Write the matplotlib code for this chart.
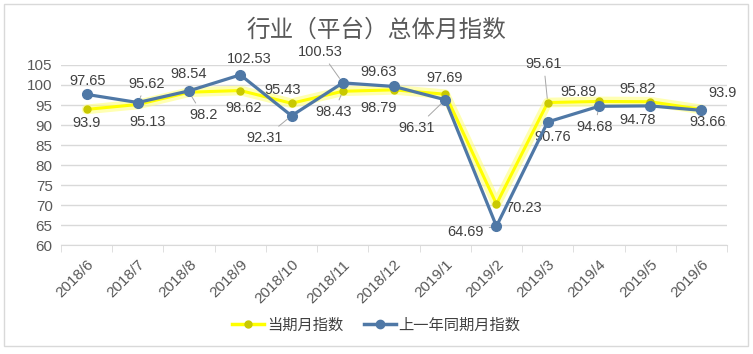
import numpy as np
import matplotlib
matplotlib.use('Agg')
import matplotlib.pyplot as plt
from matplotlib.lines import Line2D
from matplotlib.patches import Rectangle

plt.rcParams['font.family'] = ['Liberation Sans', 'Noto Sans CJK SC', 'DejaVu Sans']

# data
months = ['2018/6', '2018/7', '2018/8', '2018/9', '2018/10', '2018/11', '2018/12',
          '2019/1', '2019/2', '2019/3', '2019/4', '2019/5', '2019/6']
current = [93.9, 95.13, 98.2, 98.62, 95.43, 98.43, 98.79, 97.69, 70.23, 95.61, 95.89, 95.82, 93.9]
last_year = [97.65, 95.62, 98.54, 102.53, 92.31, 100.53, 99.63, 96.31, 64.69, 90.76, 94.68, 94.78, 93.66]

# label offsets in pixels (dx, dy), dy positive = up
cur_off = [(0, -14), (10, -18), (14, -23), (3, -17), (-9, 13), (-9, -21), (-15, -18),
           (-1, 16), (27, -4), (-4, 39), (-20, 9), (-13, 13), (21, 16)]
last_off = [(1, 13), (9, 19), (0, 17), (9, 16), (-27, -22), (-22, 31), (-15, 14),
            (-29, -28), (-31, -6), (5, -15), (-4, -21), (-13, -14), (6, -12)]
cur_lead = [2, 5, 9]
last_lead = [1, 4, 5, 7, 8, 10]

yellow = '#FFFF00'
blue = '#4F78A6'
txt = '#404040'

fig = plt.figure(figsize=(7.53, 3.54), dpi=100)
ax = fig.add_axes([61 / 753, 1 - 245 / 354, 666 / 753, 180 / 354])
x = np.arange(len(months))

ax.plot(x, current, color='#FFFF80', lw=7, alpha=0.6, solid_capstyle='round', zorder=2)
ax.plot(x, current, color=yellow, lw=2.2, marker='o', ms=5, mfc='#C9C900', mec='#C9C900', zorder=3)
ax.plot(x, last_year, color=blue, lw=2.3, marker='o', ms=7, zorder=4)

for i in range(len(x)):
    dx, dy = cur_off[i]
    ap = dict(arrowstyle='-', color='#A6A6A6', lw=0.7, shrinkA=2, shrinkB=3) if i in cur_lead else None
    ax.annotate(f'{current[i]:g}', (x[i], current[i]), xytext=(dx, dy), textcoords='offset pixels',
                ha='center', va='center', fontsize=10.5, color=txt, annotation_clip=False, arrowprops=ap)
    dx, dy = last_off[i]
    ap = dict(arrowstyle='-', color='#A6A6A6', lw=0.7, shrinkA=2, shrinkB=4) if i in last_lead else None
    ax.annotate(f'{last_year[i]:g}', (x[i], last_year[i]), xytext=(dx, dy), textcoords='offset pixels',
                ha='center', va='center', fontsize=10.5, color=txt, annotation_clip=False, arrowprops=ap)

ax.set_xlim(-0.5, len(months) - 0.5)
ax.set_ylim(60, 105)
ax.set_yticks(np.arange(60, 106, 5))
ax.grid(axis='y', color='#D9D9D9', lw=1)
ax.set_axisbelow(True)
for s in ['top', 'right', 'left']:
    ax.spines[s].set_visible(False)
ax.spines['bottom'].set_color('#D9D9D9')
ax.set_xticks(x)
ax.set_xticklabels(months, rotation=45, ha='right', rotation_mode='anchor')
ax.set_xticks(np.arange(-0.5, len(months)), minor=True)
ax.tick_params(axis='x', which='major', length=0, pad=9, labelsize=11, labelcolor='#595959')
ax.tick_params(axis='x', which='minor', length=5, color='#D9D9D9')
ax.tick_params(axis='y', length=0, labelsize=11, labelcolor='#595959', pad=6)
for lab in ax.get_xticklabels():
    lab.set_x(lab.get_position()[0])

fig.text(0.5, 1 - 30 / 354, '行业（平台）总体月指数', ha='center', va='center',
         fontsize=17, color='#595959', family=['Noto Sans CJK SC', 'DejaVu Sans'])

handles = [Line2D([], [], color=yellow, lw=2.5, marker='o', ms=5, mfc='#C9C900', mec='#C9C900'),
           Line2D([], [], color=blue, lw=2.5, marker='o', ms=6)]
fig.legend(handles, ['当期月指数', '上一年同期月指数'], loc='center', bbox_to_anchor=(0.5, 1 - 325 / 354),
           ncol=2, frameon=False, labelcolor='#404040', handlelength=2.1, handletextpad=0.2,
           columnspacing=1.3, prop={'family': ['Noto Sans CJK SC', 'DejaVu Sans'], 'size': 11})

fig.patches.append(Rectangle((4 / 753, 1 - 346 / 354), 744 / 753, 342 / 354, transform=fig.transFigure,
                             fill=False, ec='#D9D9D9', lw=1))

fig.savefig('out.png', dpi=100)
